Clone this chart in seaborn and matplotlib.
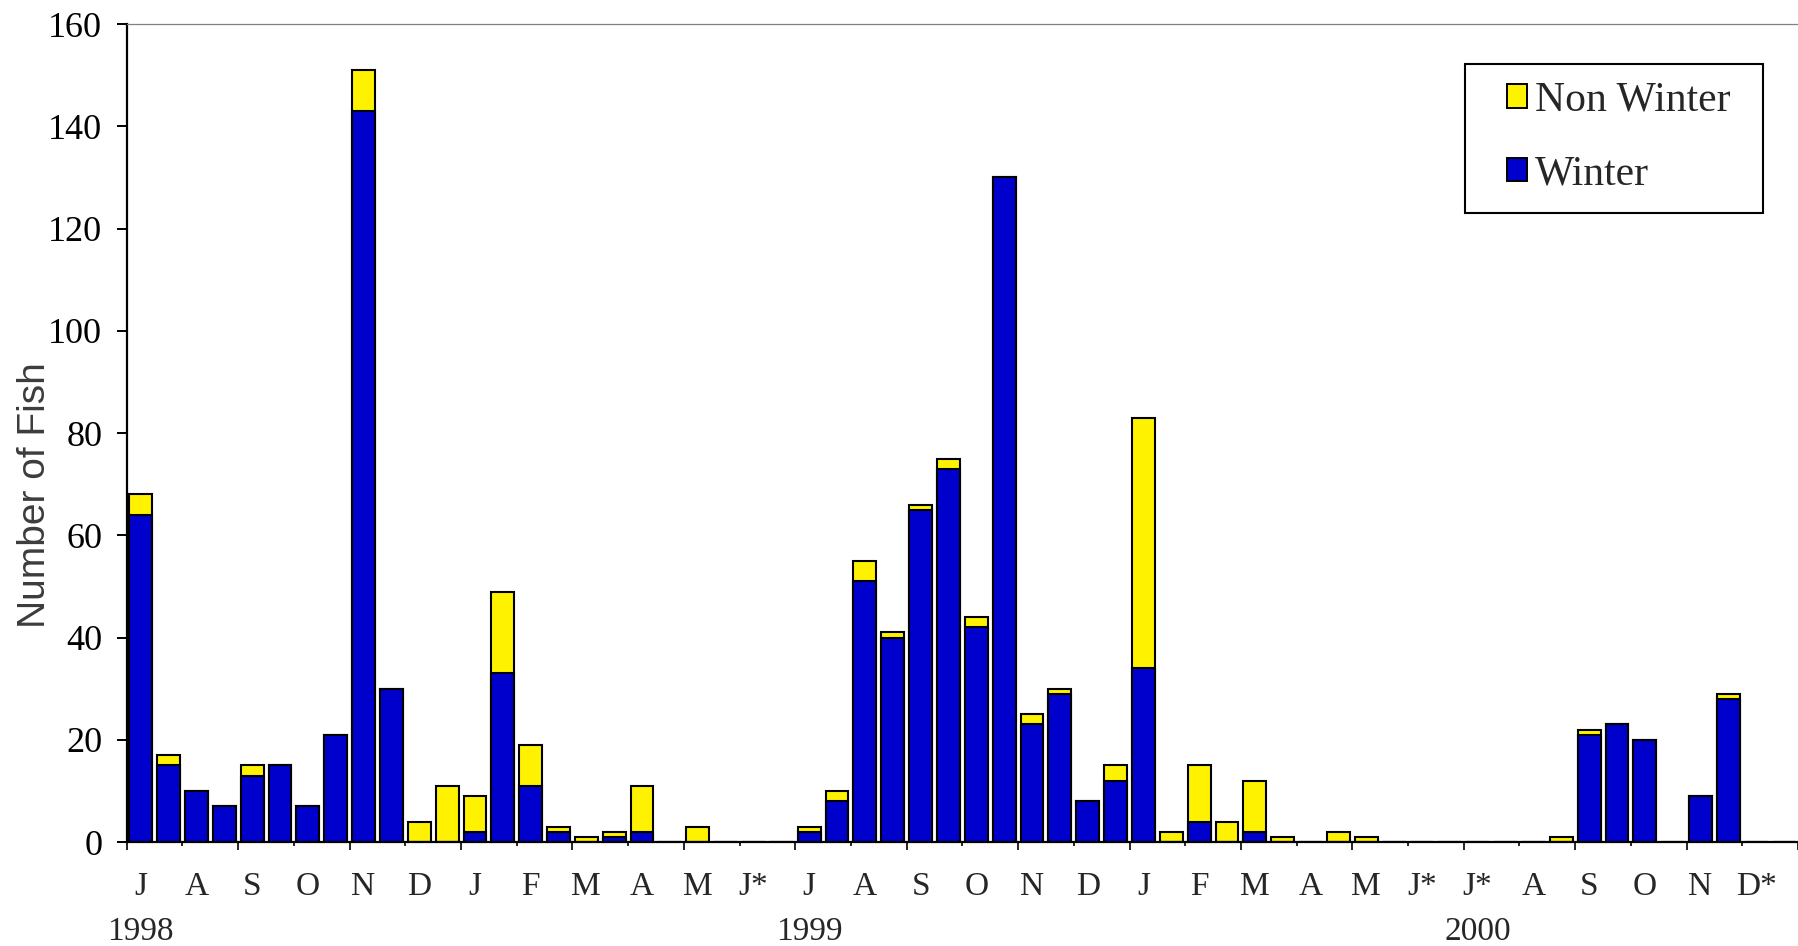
import matplotlib
matplotlib.use("Agg")
import matplotlib.pyplot as plt
from matplotlib.patches import Patch, Rectangle
import numpy as np
import pandas as pd
import seaborn as sns

# ---- data: two sampling periods (slots) per month, July 1998 - December 2000 ----
month_labels = ['J', 'A', 'S', 'O', 'N', 'D', 'J', 'F', 'M', 'A', 'M', 'J*',
                'J', 'A', 'S', 'O', 'N', 'D', 'J', 'F', 'M', 'A', 'M', 'J*',
                'J*', 'A', 'S', 'O', 'N', 'D*']
year_labels = ['1998', '1999', '2000']
year_month_index = [0, 12, 24]

winter = [64, 15, 10, 7, 13, 15, 7, 21, 143, 30,
          0, 0, 2, 33, 11, 2, 0, 1, 2, 0,
          0, 0, 0, 0, 2, 8, 51, 40, 65, 73,
          42, 130, 23, 29, 8, 12, 34, 0, 4, 0,
          2, 0, 0, 0, 0, 0, 0, 0, 0, 0,
          0, 0, 21, 23, 20, 0, 9, 28, 0, 0]
non_winter = [4, 2, 0, 0, 2, 0, 0, 0, 8, 0,
              4, 11, 7, 16, 8, 1, 1, 1, 9, 0,
              3, 0, 0, 0, 1, 2, 4, 1, 1, 2,
              2, 0, 2, 1, 0, 3, 49, 2, 11, 4,
              10, 1, 0, 2, 1, 0, 0, 0, 0, 0,
              0, 1, 1, 0, 0, 0, 0, 1, 0, 0]
series_names = ['Non Winter', 'Winter']

slots = list(range(len(winter)))
df = pd.DataFrame({'slot': slots,
                   'winter': winter,
                   'non_winter': non_winter})
df['total'] = df['winter'] + df['non_winter']

YELLOW = '#FFF200'
BLUE = '#0000CC'

sns.set_style('white')
plt.rcParams['font.family'] = ['Liberation Serif', 'DejaVu Serif']

fig = plt.figure(figsize=(17.98, 9.46), dpi=100)
ax = fig.add_axes([0.0705, 0.1099, 0.9295, 0.8647])

bar_kw = dict(order=slots, width=0.82, edgecolor='black', linewidth=1.5,
              saturation=1, errorbar=None, ax=ax)
# stacked: total (non winter on top) drawn first, winter overlaid from the base
sns.barplot(data=df, x='slot', y='total', color=YELLOW, **bar_kw)
sns.barplot(data=df, x='slot', y='winter', color=BLUE, **bar_kw)

ax.set_xlim(-0.5, len(slots) - 0.5)
ax.set_ylim(0, 160)
ax.set_xlabel('')

# spines
for s in ['left', 'bottom']:
    ax.spines[s].set_color('black')
    ax.spines[s].set_linewidth(1.6)
ax.spines['top'].set_color('#808080')
ax.spines['top'].set_linewidth(0.9)
ax.spines['right'].set_visible(False)

# y axis
ax.set_yticks(np.arange(0, 161, 20))
ax.tick_params(axis='y', direction='out', length=7.2, width=1.4, pad=10.5,
               labelsize=26, colors='black', left=True)

# x axis: month labels at first slot of each month
label_pos = [2 * i for i in range(len(month_labels))]
ax.set_xticks(label_pos, labels=month_labels)
ax.tick_params(axis='x', which='major', length=0, pad=21, labelsize=24,
               bottom=True)
# long ticks every two months, short ticks on the months between
long_ticks = [-0.5 + 4 * k for k in range(16)]
short_ticks = [1.5 + 4 * k for k in range(15)]
ax.set_xticks(long_ticks, minor=True)
ax.tick_params(axis='x', which='minor', direction='out', length=6, width=1.4,
               bottom=True)
sec = ax.secondary_xaxis('bottom')
sec.set_xticks(short_ticks, labels=[''] * len(short_ticks))
sec.tick_params(axis='x', direction='out', length=3, width=1.4)
sec.spines['bottom'].set_visible(False)

# year labels
for yl, mi in zip(year_labels, year_month_index):
    ax.text(label_pos[mi], -0.1198, yl, transform=ax.get_xaxis_transform(),
            ha='center', va='baseline', fontsize=24)

# y label
ax.set_ylabel('Number of Fish', fontsize=28,
              family=['Liberation Sans Narrow', 'Liberation Sans', 'DejaVu Sans'],
              color='#3c3c3c')
ax.yaxis.set_label_coords(-0.0440, 0.424)

# legend
handles = [Patch(facecolor=YELLOW, edgecolor='black', linewidth=1.4),
           Patch(facecolor=BLUE, edgecolor='black', linewidth=1.4)]
ax.legend(handles, series_names, loc='center', bbox_to_anchor=(0.8926, 0.8613),
          frameon=False, fontsize=30, handlelength=0.48, handleheight=0.48,
          handletextpad=0.19, labelspacing=0.85, borderpad=0)
ax.add_patch(Rectangle((0.8008, 0.769), 0.1783, 0.182, transform=ax.transAxes,
                       fill=False, edgecolor='black', linewidth=1.5,
                       clip_on=False, zorder=5))

fig.savefig('out.png', dpi=100, facecolor='white')
